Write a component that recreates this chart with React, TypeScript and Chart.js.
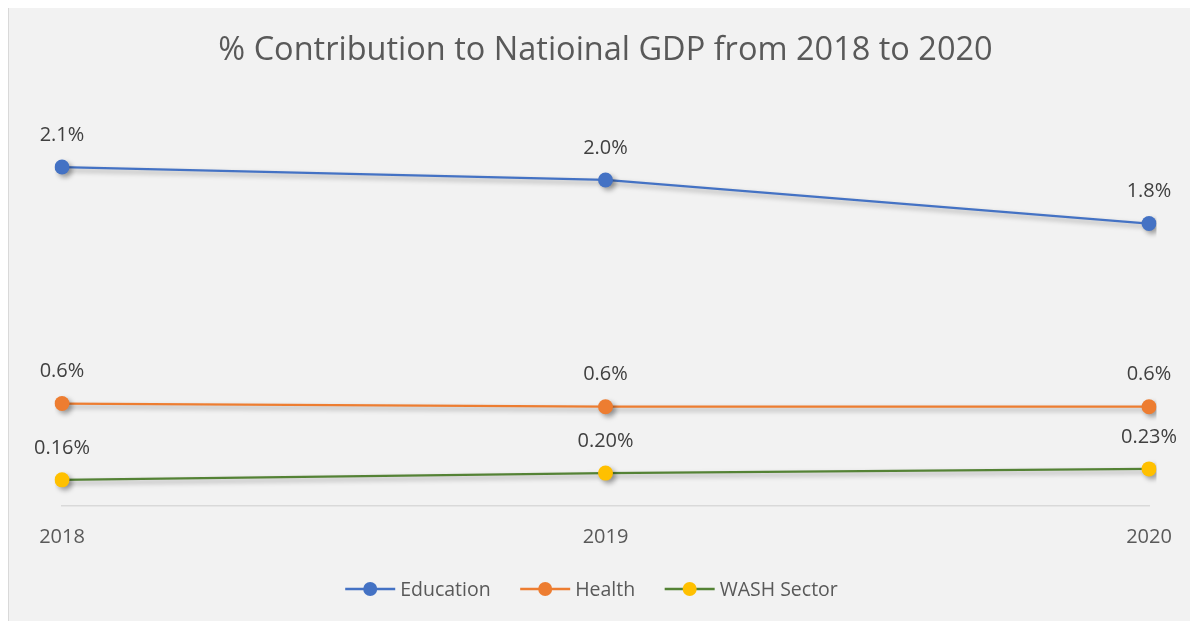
import React, { useEffect, useRef } from "react";
import { Chart, registerables } from "chart.js";

Chart.register(...registerables);

const categories = ["2018", "2019", "2020"];
const seriesNames = ["Education", "Health", "WASH Sector"];
const education = [2.1, 2.02, 1.75];
const health = [0.635, 0.615, 0.615];
const wash = [0.162, 0.204, 0.23];
const labelDecimals = [1, 1, 2];
const titleText = "% Contribution to Natioinal GDP from 2018 to 2020";

const lineColors = ["#4472c4", "#ed7d31", "#548235"];
const pointColors = ["#4472c4", "#ed7d31", "#ffc000"];

function fmt(v: number, d: number): string {
  const m = Math.pow(10, d);
  return (Math.round(v * m + 1e-9) / m).toFixed(d) + "%";
}

const shadowPlugin = {
  id: "shadowPlugin",
  beforeDatasetDraw(chart: any) {
    const ctx = chart.ctx;
    ctx.save();
    ctx.shadowColor = "rgba(0,0,0,0.35)";
    ctx.shadowBlur = 5;
    ctx.shadowOffsetX = 3;
    ctx.shadowOffsetY = 3;
  },
  afterDatasetDraw(chart: any) {
    chart.ctx.restore();
  },
};

const labelPlugin = {
  id: "labelPlugin",
  afterDatasetsDraw(chart: any) {
    const ctx = chart.ctx;
    ctx.save();
    ctx.font = '20px "Open Sans"';
    ctx.fillStyle = "#404040";
    ctx.textAlign = "center";
    ctx.textBaseline = "middle";
    chart.data.datasets.forEach((ds: any, i: number) => {
      const meta = chart.getDatasetMeta(i);
      meta.data.forEach((pt: any, j: number) => {
        const v = ds.data[j] as number;
        ctx.fillText(fmt(v, labelDecimals[i]), pt.x, pt.y - 32);
      });
    });
    ctx.restore();
  },
};

// Legend drawn from the dataset labels/colours, line + circle marker like the original
const legendPlugin = {
  id: "lineLegend",
  afterDraw(chart: any) {
    const ctx = chart.ctx;
    const iconW = 50;
    const iconGap = 5;
    const itemGap = 29.5;
    ctx.save();
    ctx.font = '19.5px "Open Sans"';
    ctx.textBaseline = "middle";
    ctx.textAlign = "left";
    const ds = chart.data.datasets;
    const widths = ds.map((d: any) => iconW + iconGap + ctx.measureText(d.label).width);
    const total = widths.reduce((a: number, b: number) => a + b, 0) + itemGap * (ds.length - 1);
    const cx = (chart.chartArea.left + chart.chartArea.right) / 2 - 14;
    let x = cx - total / 2;
    const y = chart.height - 32;
    ds.forEach((d: any, i: number) => {
      ctx.strokeStyle = d.borderColor;
      ctx.lineWidth = 2.5;
      ctx.beginPath();
      ctx.moveTo(x, y);
      ctx.lineTo(x + iconW, y);
      ctx.stroke();
      ctx.fillStyle = d.pointBackgroundColor;
      ctx.beginPath();
      ctx.arc(x + iconW / 2, y, 7, 0, Math.PI * 2);
      ctx.fill();
      ctx.fillStyle = "#595959";
      ctx.fillText(d.label, x + iconW + iconGap, y + 1);
      x += widths[i] + itemGap;
    });
    ctx.restore();
  },
};

export default function App() {
  const ref = useRef<HTMLCanvasElement | null>(null);

  useEffect(() => {
    if (!ref.current) return;
    const values = [education, health, wash];
    const chart = new Chart(ref.current, {
      type: "line",
      data: {
        labels: categories,
        datasets: seriesNames.map((name, i) => ({
          label: name,
          data: values[i],
          borderColor: lineColors[i],
          backgroundColor: pointColors[i],
          pointBackgroundColor: pointColors[i],
          pointBorderColor: pointColors[i],
          pointBorderWidth: 0,
          pointRadius: 7.5,
          pointHoverRadius: 7.5,
          pointStyle: "circle",
          borderWidth: 2.25,
          tension: 0,
        })),
      },
      options: {
        animation: false,
        responsive: true,
        maintainAspectRatio: false,
        layout: { padding: { left: 53, right: 49, top: 0, bottom: 53 } },
        scales: {
          x: {
            offset: false,
            grid: { display: false, drawTicks: false },
            border: { display: true, color: "#d9d9d9", width: 1.5 },
            ticks: {
              color: "#595959",
              font: { family: '"Open Sans"', size: 20 },
              padding: 19,
            },
          },
          y: {
            display: false,
            min: 0,
            max: 2.5,
          },
        },
        plugins: {
          title: {
            display: true,
            text: titleText,
            color: "#595959",
            font: { family: '"Open Sans"', size: 32.5, weight: "normal" },
            padding: { top: 23, bottom: 32.5 },
          },
          legend: { display: false },
          tooltip: { enabled: false },
        },
      },
      plugins: [shadowPlugin, labelPlugin, legendPlugin],
    });
    return () => chart.destroy();
  }, []);

  return (
    <div
      style={{
        position: "relative",
        marginTop: -1,
        width: 1190,
        height: 614,
        boxSizing: "border-box",
        background: "#f2f2f2",
        borderLeft: "1px solid #d9d9d9",
        borderTop: "1px solid #d9d9d9",
      }}
    >
      <canvas ref={ref} />
    </div>
  );
}
